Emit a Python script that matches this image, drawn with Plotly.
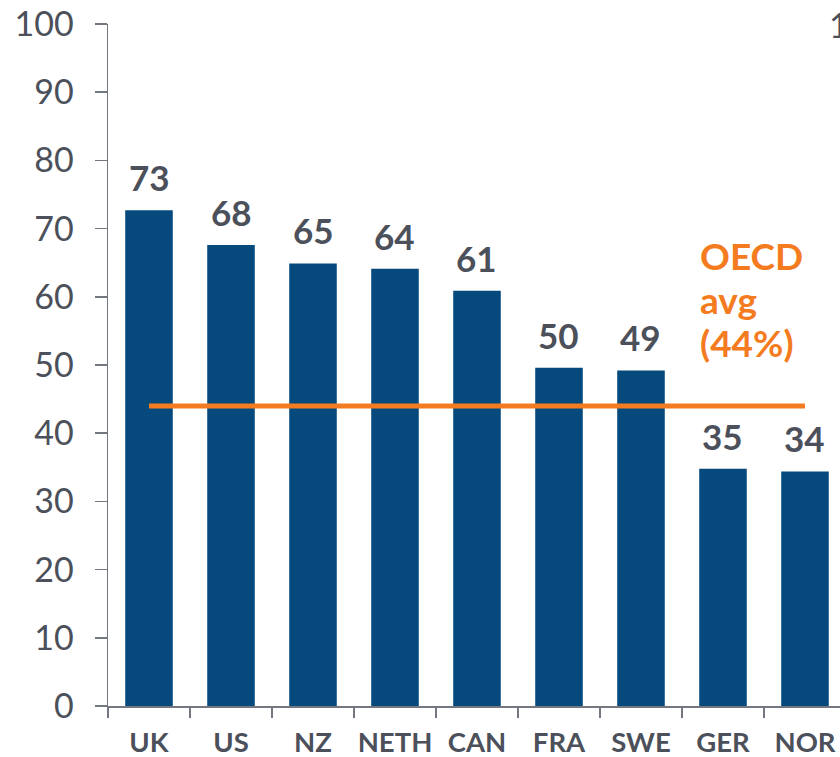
import plotly.graph_objects as go

countries = ["UK", "US", "NZ", "NETH", "CAN", "FRA", "SWE", "GER", "NOR"]
values = [72.7, 67.6, 64.9, 64.1, 60.9, 49.6, 49.2, 34.8, 34.4]
labels = ["73", "68", "65", "64", "61", "50", "49", "35", "34"]
oecd_avg = 44
oecd_text = ["OECD", "avg", "(44%)"]
y_ticks = [0, 10, 20, 30, 40, 50, 60, 70, 80, 90, 100]

BAR = "#064A7D"
ORANGE = "#F47B20"
GRAY = "#4B505A"
AXIS = "#737780"
FONT = "Lato"

fig = go.Figure()
fig.add_trace(go.Bar(
    x=countries, y=values, marker=dict(color=BAR, line=dict(width=0)),
    hoverinfo="skip",
))
fig.add_trace(go.Scatter(
    x=[countries[0], countries[-1]], y=[oecd_avg, oecd_avg], mode="lines",
    line=dict(color=ORANGE, width=5), hoverinfo="skip",
))

ann = []
for c, v, t in zip(countries, values, labels):
    ann.append(dict(x=c, y=v, xref="x", yref="y", yanchor="bottom", yshift=10,
                    text=t, showarrow=False,
                    font=dict(family=FONT, size=35, color=GRAY, weight="bold")))
for t, yy in zip(oecd_text, [66.1, 59.6, 53.3]):
    ann.append(dict(xref="paper", yref="y", x=0.806, y=yy, xanchor="left", yanchor="middle",
                    text=t, showarrow=False,
                    font=dict(family=FONT, size=37, color=ORANGE, weight="bold")))
ann.append(dict(xref="paper", yref="paper", x=1, y=1, xshift=-13,
                xanchor="left", yanchor="middle", text="100", showarrow=False,
                font=dict(family=FONT, size=34, color=GRAY)))

fig.update_layout(
    width=840, height=757,
    margin=dict(l=108, r=0, t=24, b=51, autoexpand=False),
    paper_bgcolor="white", plot_bgcolor="white",
    showlegend=False, bargap=0.42,
    annotations=ann,
    xaxis=dict(
        type="category", range=[-0.5, 8.427], automargin=False,
        showline=True, linecolor=AXIS, linewidth=1.5,
        ticks="outside", tickson="boundaries", ticklen=10, tickcolor=AXIS, tickwidth=1.5,
        ticklabelstandoff=11, tickangle=0, ticklabeloverflow="allow",
        tickfont=dict(family=FONT, size=27.5, color=GRAY, weight="bold"),
        showgrid=False, zeroline=False,
    ),
    yaxis=dict(
        range=[0, 100], tickvals=y_ticks, automargin=False,
        showline=True, linecolor=AXIS, linewidth=1.5,
        ticks="outside", ticklen=12, tickcolor=AXIS, tickwidth=1.5,
        ticklabelstandoff=14, ticklabeloverflow="allow",
        tickfont=dict(family=FONT, size=34, color=GRAY),
        showgrid=False, zeroline=False,
    ),
)
fig.write_html("out.html",
               config={"displayModeBar": False, "staticPlot": True},
               post_script="document.body.style.margin='0';document.body.style.overflow='hidden';")
